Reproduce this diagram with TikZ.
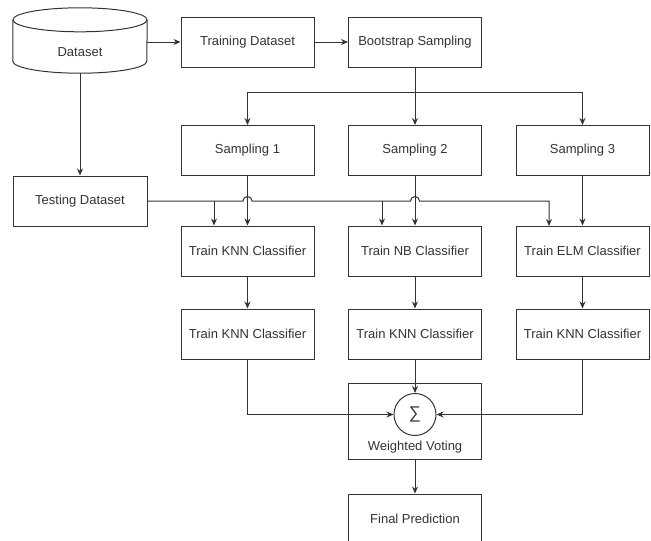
\documentclass[tikz,border=0pt]{standalone}
\usepackage{fontspec}
\setmainfont{Liberation Sans}
\usetikzlibrary{arrows.meta}
\definecolor{ink}{HTML}{333333}
\tikzset{
  box/.style={draw=ink,line width=1pt,minimum width=133pt,minimum height=50pt,text=ink,inner sep=0pt},
  arr/.style={draw=ink,line width=1pt,-{Stealth[length=7pt,width=6pt]}},
  wire/.style={draw=ink,line width=1pt}
}
\begin{document}
\begin{tikzpicture}[x=1pt,y=1pt,font=\fontsize{13}{15}\selectfont]
\useasboundingbox (0,0) rectangle (651,-541);

\node[text=ink,minimum width=134pt,minimum height=41pt,inner sep=0pt] (data) at (80,-52.5) {Dataset};
\draw[wire] ([yshift=12pt]data.north) ellipse (67 and 12);
\draw[wire] ([yshift=12pt]data.north west) -- ([yshift=12pt]data.south west) arc (180:360:67 and 12) -- ([yshift=12pt]data.north east);

\node[box] (train) at (247.5,-42) {Training Dataset};
\node[box] (boot) at (415,-42) {Bootstrap Sampling};

\node[box] (s1) at (247.5,-150.5) {Sampling 1};
\node[box] (s2) at (415,-150.5) {Sampling 2};
\node[box] (s3) at (582.5,-150.5) {Sampling 3};

\node[box,minimum width=134pt] (test) at (80,-201) {Testing Dataset};

\node[box] (t1) at (247.5,-251) {Train KNN Classifier};
\node[box] (t2) at (415,-251) {Train NB Classifier};
\node[box] (t3) at (582.5,-251) {Train ELM Classifier};

\node[box] (k1) at (247.5,-334) {Train KNN Classifier};
\node[box] (k2) at (415,-334) {Train KNN Classifier};
\node[box] (k3) at (582.5,-334) {Train KNN Classifier};

\node[box,minimum height=76pt] (vote) at (415,-421) {};
\node[circle,draw=ink,line width=1pt,minimum size=42pt,inner sep=0pt,text=ink,
  label={[text=ink,label distance=2pt]below:Weighted Voting}] (sig) at (415,-414.5)
  {\fontsize{17}{17}\selectfont ∑};

\node[box] (final) at (415,-519) {Final Prediction};

\coordinate (split) at (415,-92);
\coordinate (in1) at (214,-201);
\coordinate (in2) at (382,-201);
\coordinate (in3) at (549,-226);

\draw[arr] (train.west -| data.east) -- (train.west);
\draw[arr] (train) -- (boot);
\draw[arr] (boot) -- (s2);
\draw[arr] (split) -| (s1.north);
\draw[arr] (split) -| (s3.north);
\draw[arr] (data) -- (test);

\draw[arr] (test.east) -- (243,-201) arc (180:0:4.5) -- (410.5,-201) arc (180:0:4.5) -| (in3);
\draw[arr] (in1) -- (in1 |- t1.north);
\draw[arr] (in2) -- (in2 |- t2.north);

\draw[arr] (s1) -- (t1);
\draw[arr] (s2) -- (t2);
\draw[arr] (s3) -- (t3);

\draw[arr] (t1) -- (k1);
\draw[arr] (t2) -- (k2);
\draw[arr] (t3) -- (k3);

\draw[arr] (k1.south) |- (sig.west);
\draw[arr] (k2.south) -- (sig.north);
\draw[arr] (k3.south) |- (sig.east);

\draw[arr] (vote) -- (final);
\end{tikzpicture}
\end{document}
